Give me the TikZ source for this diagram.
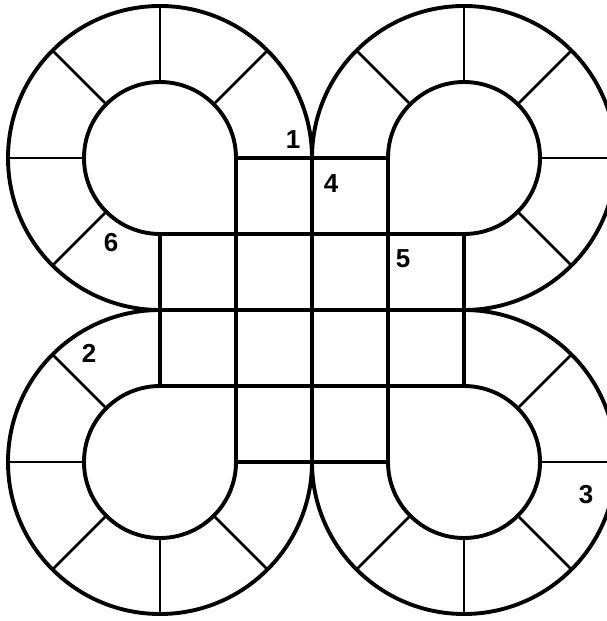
\documentclass[tikz,border=0pt]{standalone}
\usepackage{fontspec}
\setmainfont{Liberation Sans}
\begin{document}
\begin{tikzpicture}[x=1pt,y=1pt]
\useasboundingbox (0,0) rectangle (607,621);
\tikzset{
  outline/.style={line width=3.9pt},
  spoke/.style={line width=2.8pt},
  gridline/.style={line width=3.2pt},
  lbl/.style={font=\fontsize{26}{26}\selectfont\bfseries, inner sep=0pt}
}
\begin{scope}[shift={(312,311)},x=76pt,y=76pt,line cap=round,line join=round]
  % grid
  \draw[gridline] (-1,2) -- (1,2);
  \draw[gridline] (-2,1) -- (2,1);
  \draw[gridline] (-2,0) -- (2,0);
  \draw[gridline] (-2,-1) -- (2,-1);
  \draw[gridline] (-1,-2) -- (1,-2);
  \draw[gridline] (-2,-1) -- (-2,1);
  \draw[gridline] (-1,-2) -- (-1,2);
  \draw[gridline] (0,-2) -- (0,2);
  \draw[gridline] (1,-2) -- (1,2);
  \draw[gridline] (2,-1) -- (2,1);
  % top-left lobe
  \draw[outline] (0,2) arc[start angle=0,end angle=270,radius=2];
  \draw[outline] (-1,2) arc[start angle=0,end angle=270,radius=1];
  \foreach \a in {45,90,135,180,225} \draw[spoke,shift={(-2,2)}] (\a:1) -- (\a:2);
  % top-right lobe
  \draw[outline] (2,0) arc[start angle=-90,end angle=180,radius=2];
  \draw[outline] (2,1) arc[start angle=-90,end angle=180,radius=1];
  \foreach \a in {135,90,45,0,-45} \draw[spoke,shift={(2,2)}] (\a:1) -- (\a:2);
  % bottom-left lobe
  \draw[outline] (-2,0) arc[start angle=90,end angle=360,radius=2];
  \draw[outline] (-2,-1) arc[start angle=90,end angle=360,radius=1];
  \foreach \a in {135,180,225,270,315} \draw[spoke,shift={(-2,-2)}] (\a:1) -- (\a:2);
  % bottom-right lobe
  \draw[outline] (0,-2) arc[start angle=180,end angle=450,radius=2];
  \draw[outline] (1,-2) arc[start angle=180,end angle=450,radius=1];
  \foreach \a in {45,0,-45,-90,-135} \draw[spoke,shift={(2,-2)}] (\a:1) -- (\a:2);
\end{scope}
% labels (image coords converted: y = 621 - y_img)
\node[lbl] (l1) at (293,481) {1};
\node[lbl] (l4) at (331,437) {4};
\node[lbl] (l6) at (111,378) {6};
\node[lbl] (l5) at (403,362) {5};
\node[lbl] (l2) at (89,268) {2};
\node[lbl] (l3) at (586,126) {3};
\end{tikzpicture}
\end{document}
